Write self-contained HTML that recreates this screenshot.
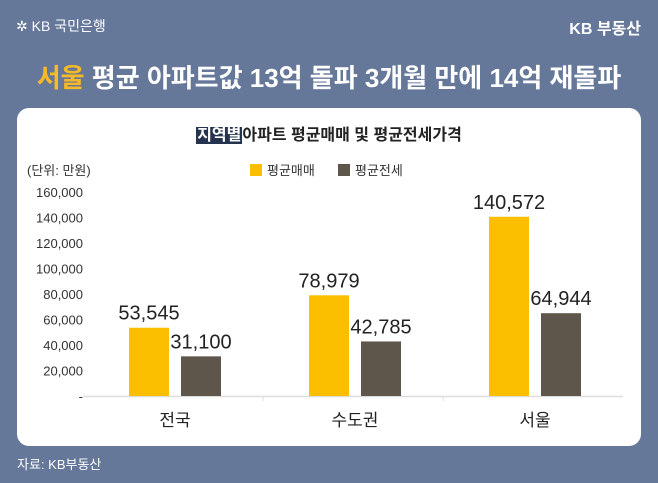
<!DOCTYPE html>
<html><head><meta charset="utf-8"><style>
body{margin:0;width:658px;height:483px;background:#66789a;font-family:"Liberation Sans","Noto Sans CJK KR",sans-serif;position:relative;overflow:hidden}
.a{position:absolute;white-space:nowrap}
</style></head><body>
<div class="a" style="left:16px;top:16px;color:#fff;font-size:14px">✲ KB 국민은행</div>
<div class="a" style="right:17px;top:15px;color:#fff;font-size:16px;font-weight:bold">KB 부동산</div>
<div class="a" style="left:0;width:658px;text-align:center;top:58px;color:#fff;font-size:26px;font-weight:bold"><span style="color:#f7b928">서울</span> 평균 아파트값 13억 돌파 3개월 만에 14억 재돌파</div>
<div class="a" style="left:17px;top:108px;width:624px;height:338px;background:#fff;border-radius:12px"></div>
<div class="a" style="left:0;width:658px;text-align:center;top:121px;font-size:16px;font-weight:bold;color:#222"><span style="background:#24344f;color:#fff;padding:0 1px">지역별</span>아파트 평균매매 및 평균전세가격</div>
<div class="a" style="left:27px;top:160px;font-size:13px;color:#333">(단위: 만원)</div>
<div class="a" style="left:250px;top:160px;font-size:13px;color:#333"><span style="display:inline-block;width:12px;height:12px;background:#fbbf00;vertical-align:-1px;margin-right:5px"></span>평균매매</div>
<div class="a" style="left:338px;top:160px;font-size:13px;color:#333"><span style="display:inline-block;width:12px;height:12px;background:#5f564b;vertical-align:-1px;margin-right:5px"></span>평균전세</div>
<svg class="a" style="left:0;top:0" width="658" height="483" id="chart"></svg>
<div class="a" style="left:17px;top:454px;font-size:13px;color:#fff">자료: KB부동산</div>
<script>
const categories=["전국","수도권","서울"];
const saleValues=[53545,78979,140572];
const jeonseValues=[31100,42785,64944];
const tickValues=[0,20000,40000,60000,80000,100000,120000,140000,160000];
const tickLabels=["-","20,000","40,000","60,000","80,000","100,000","120,000","140,000","160,000"];
const svg=document.getElementById('chart');const NS='http://www.w3.org/2000/svg';
const y0=396,y1=192,x0=83,x1=623;
const y=v=>y0-(v/160000)*(y0-y1);
const band=(x1-x0)/categories.length;
const cx=i=>x0+band*(i+0.5)+2;
function el(t,a){const e=document.createElementNS(NS,t);for(const k in a)e.setAttribute(k,a[k]);svg.appendChild(e);return e;}
const ax=el('line',{x1:x0,x2:x1,y1:y0+0.5,y2:y0+0.5,stroke:'#ddd','stroke-width':1.5});

tickValues.forEach((v,i)=>{const t=el('text',{x:x0,y:y(v)+5,'text-anchor':'end','font-size':13,fill:'#333'});t.textContent=tickLabels[i];
});
categories.forEach((c,i)=>{
const s=el('rect',{x:cx(i)-46,y:y(saleValues[i]),width:40,height:y0-y(saleValues[i]),fill:'#fbbf00'});

const j=el('rect',{x:cx(i)+6,y:y(jeonseValues[i]),width:40,height:y0-y(jeonseValues[i]),fill:'#5f564b'});

const t1=el('text',{x:cx(i)-26,y:y(saleValues[i])-8,'text-anchor':'middle','font-size':20,fill:'#222'});t1.textContent=saleValues[i].toLocaleString('en-US');

const t2=el('text',{x:cx(i)+26,y:y(jeonseValues[i])-8,'text-anchor':'middle','font-size':20,fill:'#222'});t2.textContent=jeonseValues[i].toLocaleString('en-US');

const l=el('text',{x:cx(i),y:426,'text-anchor':'middle','font-size':17,fill:'#222'});l.textContent=c;

if(i>0){const tk=el('line',{x1:x0+band*i,x2:x0+band*i,y1:y0,y2:y0+5,stroke:'#ddd'});}
});
</script>
</body></html>
